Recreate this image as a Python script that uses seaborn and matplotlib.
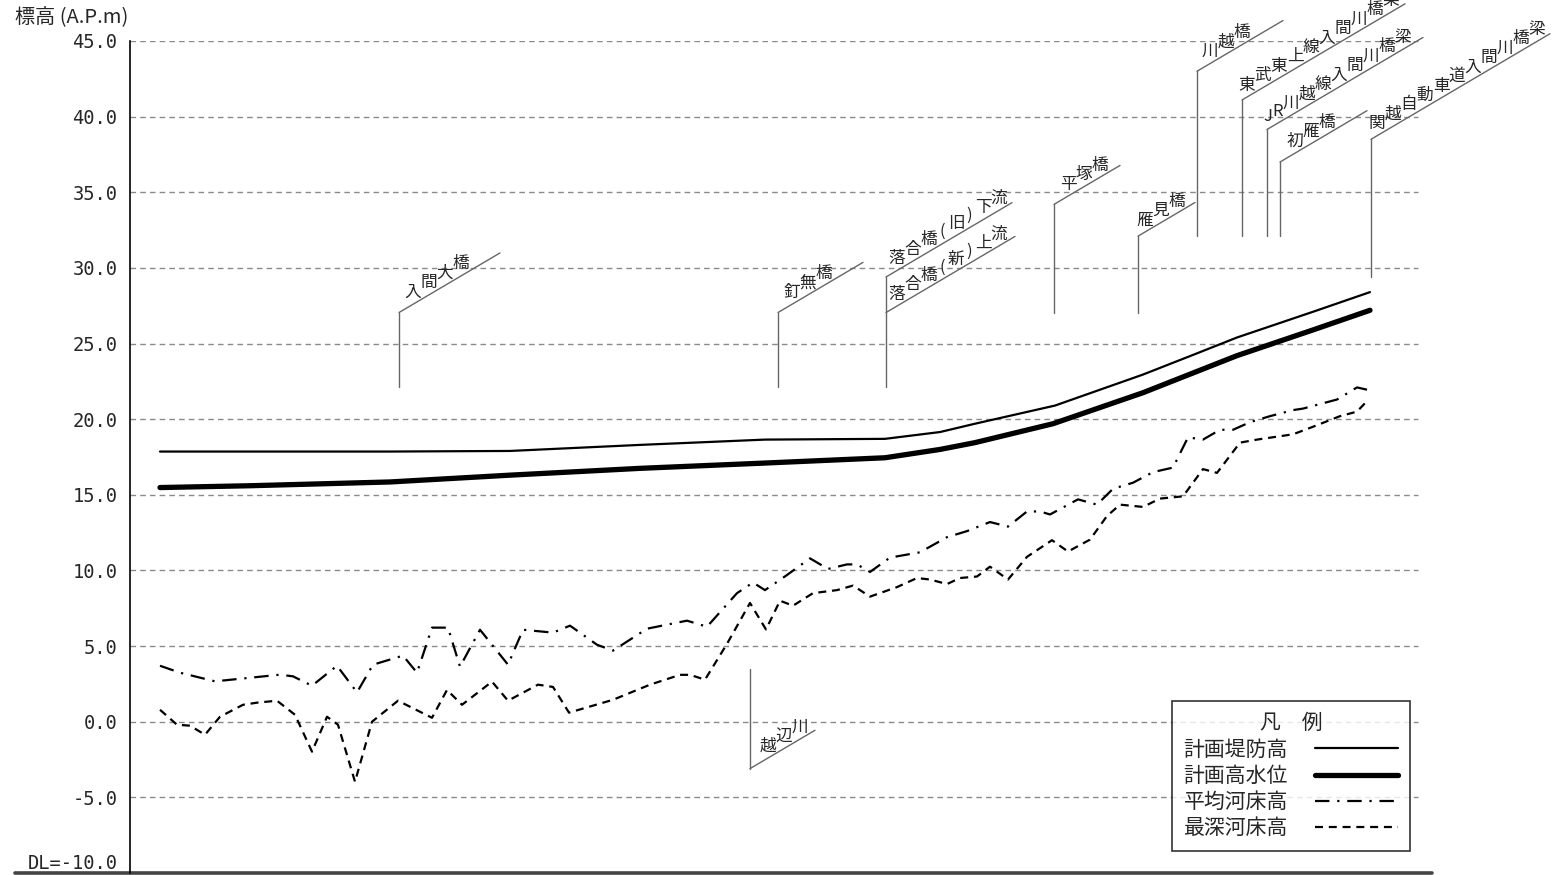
import numpy as np
import pandas as pd
import matplotlib
matplotlib.use("Agg")
import matplotlib.pyplot as plt
from matplotlib.lines import Line2D
import seaborn as sns

# 縦断図のデータ（横位置は図上の距離、値は標高 A.P.m）
levee_x = [160, 250, 390, 510, 640, 765, 885, 940, 975, 1055, 1143, 1195, 1237, 1313, 1370]
levee_z = [17.86, 17.86, 17.86, 17.9, 18.3, 18.65, 18.7, 19.15, 19.7, 20.9, 22.95, 24.3, 25.4, 27.1, 28.4]

hwl_x = [160, 250, 390, 510, 640, 765, 885, 940, 975, 1053, 1143, 1237, 1313, 1370]
hwl_z = [15.48, 15.6, 15.85, 16.3, 16.75, 17.1, 17.45, 18.0, 18.45, 19.7, 21.75, 24.2, 25.9, 27.2]

mean_x = [160, 180, 215, 280, 293, 312, 337, 357, 373, 403, 417, 432, 448, 460, 480, 508,
          523, 553, 570, 597, 613, 647, 687, 707, 737, 753, 765, 787, 810, 828, 847, 857,
          870, 890, 920, 947, 967, 990, 1008, 1027, 1040, 1050, 1078, 1097, 1113, 1133,
          1153, 1173, 1188, 1203, 1220, 1233, 1250, 1270, 1293, 1303, 1337, 1357, 1367]
mean_z = [3.70, 3.24, 2.67, 3.11, 3.0, 2.38, 3.70, 1.94, 3.77, 4.37, 3.24, 6.22, 6.22, 3.64,
          6.08, 3.77, 6.08, 5.89, 6.35, 5.09, 4.7, 6.15, 6.68, 6.28, 8.5, 9.2, 8.7, 9.7,
          10.8, 10.1, 10.4, 10.4, 9.9, 10.85, 11.2, 12.2, 12.6, 13.2, 12.9, 13.9, 13.9,
          13.7, 14.7, 14.35, 15.4, 15.8, 16.5, 16.8, 18.8, 18.65, 19.3, 19.3, 19.8, 20.2,
          20.6, 20.7, 21.3, 22.1, 21.95]

deep_x = [160, 177, 190, 205, 220, 243, 257, 277, 295, 312, 327, 338, 355, 372, 398, 432,
          447, 462, 492, 508, 538, 553, 569, 613, 650, 680, 690, 705, 727, 750, 766, 780,
          793, 813, 837, 853, 870, 897, 917, 930, 947, 960, 977, 990, 1008, 1027, 1052,
          1068, 1090, 1107, 1120, 1143, 1160, 1183, 1203, 1217, 1240, 1257, 1293, 1313,
          1340, 1357, 1367]
deep_z = [0.79, -0.2, -0.26, -0.86, 0.33, 1.12, 1.26, 1.39, 0.46, -1.98, 0.33, -0.2, -3.97,
          0.0, 1.39, 0.26, 2.1, 1.12, 2.65, 1.39, 2.45, 2.3, 0.6, 1.45, 2.45, 3.1, 3.1,
          2.78, 5.15, 7.85, 6.1, 8.0, 7.67, 8.5, 8.7, 9.0, 8.27, 8.9, 9.5, 9.4, 9.1, 9.5,
          9.6, 10.25, 9.4, 10.9, 12.0, 11.25, 12.04, 13.6, 14.35, 14.2, 14.75, 14.9, 16.7,
          16.45, 18.45, 18.65, 19.0, 19.5, 20.2, 20.5, 21.2]

series_names = ["計画堤防高", "計画高水位", "平均河床高", "最深河床高"]

# 橋梁・支川の位置
bridge_names = ["入間大橋", "釘無橋", "落合橋(旧)下流", "落合橋(新)上流", "平塚橋", "雁見橋",
                "川越橋", "東武東上線入間川橋梁", "JR川越線入間川橋梁", "初雁橋",
                "関越自動車道入間川橋梁", "越辺川"]
bridge_x = [399, 778, 886, 886, 1054, 1138, 1197, 1242, 1267, 1280, 1371, 750]
bridge_base = [22.1, 22.1, 22.1, 27.05, 27.05, 27.05, 32.1, 32.1, 32.1, 32.1, 29.4, 3.5]
bridge_knee = [27.05, 27.05, 29.4, 27.05, 34.2, 32.1, 43.0, 41.1, 39.15, 37.0, 38.5, -3.1]

# 引出し線の長さと文字の開始位置（ピクセル）
leader_len = [101, 85, 126, 129, 66, 57, 86, 163, 156, 87, 179, 65]
label_start = [14, 14, 11, 11, 14, 7, 13, 5, 1, 15, 6, 18]

DPI = 100
PX = 72 / DPI
SLOPE = 0.59
LEADER = "#666666"
CJK = ["Noto Sans CJK JP", "DejaVu Sans"]

sns.set_style("white")
plt.rcParams["font.family"] = CJK

fig = plt.figure(figsize=(15.52, 8.75), dpi=DPI)
ax = fig.add_axes([130 / 1552, 2 / 875, 1302 / 1552, 832 / 875])
ax.set_xlim(130, 1432)
ax.set_ylim(-10, 45)

# grid
for v in range(-5, 50, 5):
    ax.axhline(v, xmin=0, xmax=0.989, color="#8a8a8a", lw=1.0, ls=(0, (4, 3)), zorder=1)

sns.lineplot(x=levee_x, y=levee_z, ax=ax, color="black", lw=1.6, estimator=None, sort=False)
sns.lineplot(x=hwl_x, y=hwl_z, ax=ax, color="black", lw=3.8, estimator=None, sort=False)
sns.lineplot(x=mean_x, y=mean_z, ax=ax, color="black", lw=1.6, estimator=None, sort=False)
ax.lines[-1].set_dashes((6.5, 3.5, 1.0, 3.5))
sns.lineplot(x=deep_x, y=deep_z, ax=ax, color="black", lw=1.6, estimator=None, sort=False)
ax.lines[-1].set_dashes((3.6, 2.6))


def advance(ch):
    if ch in "()":
        return 11
    if ch.isascii():
        return 10
    return 16


def draw_leader(name, x, base, knee, length, start):
    ax.plot([x, x], [base, knee], color=LEADER, lw=1.0, zorder=2)
    ax.annotate("", xy=(x, knee), xytext=(length * PX, length * SLOPE * PX),
                textcoords="offset points", annotation_clip=False,
                arrowprops=dict(arrowstyle="-", color=LEADER, lw=1.0, shrinkA=0, shrinkB=0))
    pos = start - advance(name[0]) / 2
    for ch in name:
        w = advance(ch)
        cx = pos + w / 2
        ax.annotate(ch, xy=(x, knee), xytext=(cx * PX, (cx * SLOPE + 12) * PX),
                    textcoords="offset points", ha="center", va="center",
                    fontsize=12, annotation_clip=False)
        pos += w


for i, name in enumerate(bridge_names):
    draw_leader(name, bridge_x[i], bridge_base[i], bridge_knee[i], leader_len[i], label_start[i])

# axes
sns.despine(ax=ax, top=True, right=True, bottom=True)
ax.spines["left"].set_color("black")
ax.spines["left"].set_linewidth(1.2)
ax.plot([-0.0883, 1.0], [0, 0], transform=ax.transAxes, clip_on=False, color="#444444", lw=2.6)

ticks = list(range(-10, 50, 5))
ax.set_xticks([])
ax.set_yticks(ticks)
ax.set_yticklabels(["DL=-10.0" if v == -10 else f"{v:.1f}" for v in ticks],
                   family="DejaVu Sans Mono", fontsize=13.5)
ax.tick_params(axis="y", length=0, pad=9)
ax.get_yticklabels()[0].set_verticalalignment("bottom")
ax.set_xlabel("")
ax.set_ylabel("")

fig.text(15 / 1552, 1 - 18 / 875, "標高 (A.P.m)", ha="left", va="center", fontsize=14.5)

# legend
handles = [
    Line2D([], [], color="black", lw=1.6),
    Line2D([], [], color="black", lw=3.8),
    Line2D([], [], color="black", lw=1.6, dashes=(6.5, 3.5, 1.0, 3.5)),
    Line2D([], [], color="black", lw=1.6, dashes=(3.6, 2.6)),
]
leg = ax.legend(handles, series_names, title="凡　例", loc="upper left",
                bbox_to_anchor=(1172 / 1552, 1 - 701 / 875), bbox_transform=fig.transFigure,
                markerfirst=False, fontsize=15, title_fontsize=15, frameon=True,
                fancybox=False, borderaxespad=0, handlelength=4.0, handletextpad=1.3,
                labelspacing=0.2, borderpad=0.55)
leg.get_frame().set_edgecolor("black")
leg.get_frame().set_linewidth(1.2)

fig.savefig("out.png", dpi=DPI)
